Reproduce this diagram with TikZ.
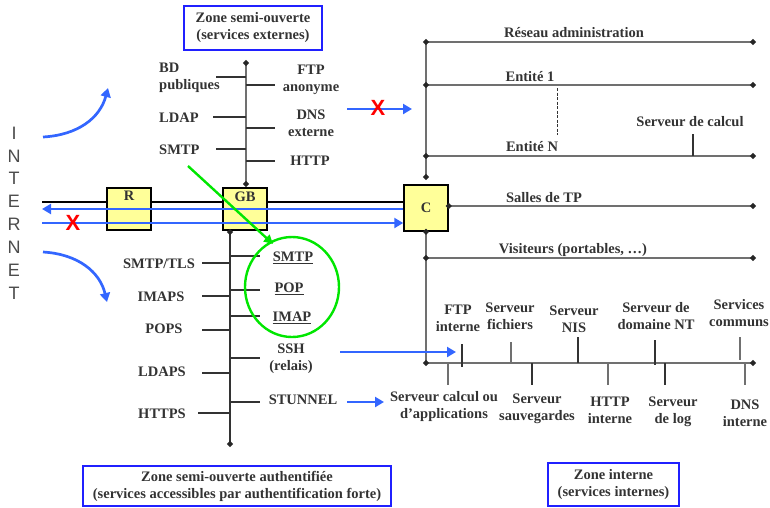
\documentclass[tikz,border=0pt]{standalone}
\usepackage{fontspec}
\setmainfont{Liberation Serif}
\setsansfont{Liberation Sans}
\usetikzlibrary{shapes.geometric,arrows.meta}
\definecolor{txt}{HTML}{333333}
\definecolor{bus}{HTML}{707070}
\definecolor{stub}{HTML}{333333}
\definecolor{zblue}{HTML}{3366FF}
\definecolor{boxblue}{HTML}{2020FF}
\definecolor{ylw}{HTML}{FFFF99}
\definecolor{grn}{HTML}{00E600}
\definecolor{xred}{HTML}{FF0000}
\begin{document}
\begin{tikzpicture}[x=1pt,y=-1pt,
  lbl/.style={font=\fontsize{14.5}{17}\selectfont\bfseries, text=txt, inner sep=0pt, align=center},
  zonebox/.style={draw=boxblue, line width=1.4pt, font=\fontsize{14.5}{17}\selectfont\bfseries, text=txt, align=center, inner sep=0pt},
  rbox/.style={draw=black, line width=1.5pt, fill=ylw, inner sep=0pt},
  busline/.style={draw=bus, line width=1.4pt},
  stubline/.style={draw=stub, line width=1.4pt},
  thickstub/.style={draw=stub, line width=2.4pt},
  dot/.style={diamond, fill=black!85, inner sep=0pt, minimum size=6.5pt},
  blarrow/.style={draw=zblue, line width=2.7pt, -{Triangle[length=9pt,width=10pt]}},
  xmark/.style={font=\sffamily\bfseries\fontsize{22}{22}\selectfont, text=xred, inner sep=0pt},
]
\useasboundingbox (0,0) rectangle (770,507);

% ---------- zone boxes ----------
\node[zonebox, minimum width=138pt, minimum height=44pt] (zso) at (253,28) {Zone semi-ouverte\\(services externes)};
\node[zonebox, minimum width=308pt, minimum height=40pt] (zsoa) at (237,486) {Zone semi-ouverte authentifiée\\(services accessibles par authentification forte)};
\node[zonebox, minimum width=131pt, minimum height=43pt] (zint) at (613.5,484.5) {Zone interne\\(services internes)};

% ---------- INTERNET ----------
\node[font=\sffamily\fontsize{18}{22.86}\selectfont, text=black!70, align=center, inner sep=0pt] (inet) at (14,213) {I\\N\\T\\E\\R\\N\\E\\T};

% ---------- boxes R, GB, C ----------
\node[rbox, minimum width=44pt, minimum height=42pt] (R) at (129,209) {};
\node[rbox, minimum width=44pt, minimum height=42pt] (GB) at (245,209) {};
\node[rbox, minimum width=44pt, minimum height=46pt] (C) at (426,208) {};
\node[lbl, anchor=north] at (R.north) [yshift=-4pt] {R};
\node[lbl, anchor=north] at (GB.north) [yshift=-4pt] {GB};
\node[lbl] at (C.center) {C};

% main backbone
\coordinate (inL) at (42,202);
\draw[black, line width=1.5pt] (inL) -- (R.west |- inL);
\draw[black, line width=1.5pt] (R.east |- inL) -- (GB.west |- inL);
\draw[black, line width=1.5pt] (GB.east |- inL) -- (C.west |- inL);
% blue flows
\coordinate (bl1) at (42,209);
\coordinate (bl2) at (42,223);
\draw[blarrow] (C.west |- bl1) -- (bl1);
\draw[blarrow] (bl2) -- (C.west |- bl2);
\node[xmark] (x1) at (73,223) {X};

% curved arrows
\coordinate (cu1) at (43,137);
\coordinate (cu2) at (108,88);
\draw[blarrow] (cu1) .. controls (78,135) and (100,118) .. (cu2);
\coordinate (cd1) at (43,252);
\coordinate (cd2) at (107,302);
\draw[blarrow] (cd1) .. controls (78,254) and (100,272) .. (cd2);

% ---------- upper DMZ bus ----------
\coordinate (ut) at (246,63);
\coordinate (ub) at (246,184);
\draw[busline] (ut) -- (ub);
\node[dot] at (ut) {};
\node[dot] at (ub) {};
\draw[stubline] (216,77) -- (246,77);
\draw[thickstub] (246,85) -- (275,85);
\draw[stubline] (213,117) -- (246,117);
\draw[stubline] (246,128) -- (275,128);
\draw[stubline] (216,149) -- (246,149);
\draw[thickstub] (246,161) -- (275,161);
\node[lbl, anchor=west, align=left] (bd) at (159,78) {BD\\publiques};
\node[lbl] (ftp) at (311,80) {FTP\\anonyme};
\node[lbl, anchor=west] (ldap) at (159,118) {LDAP};
\node[lbl] (dns) at (311,123) {DNS\\externe};
\node[lbl, anchor=west] (smtp) at (159,150) {SMTP};
\node[lbl] (http) at (310,161) {HTTP};

% blocked arrow to internal zone
\coordinate (ba1) at (347,109);
\coordinate (ba2) at (412,109);
\draw[blarrow] (ba1) -- (ba2);
\node[xmark] (x2) at (378,108) {X};

% ---------- lower DMZ bus ----------
\coordinate (lt) at (230,232);
\coordinate (lb) at (230,444);
\draw[draw=stub, line width=1.4pt] (lt) -- (lb);
\node[dot] at (lt) {};
\node[dot] at (lb) {};
\draw[thickstub] (202,263) -- (230,263);
\draw[stubline] (202,296) -- (230,296);
\draw[stubline] (202,330) -- (230,330);
\draw[stubline] (202,373) -- (230,373);
\draw[thickstub] (198,413) -- (230,413);
\draw[stubline] (230,256) -- (260,256);
\draw[stubline] (230,290) -- (260,290);
\draw[stubline] (230,316) -- (260,316);
\draw[stubline] (230,358) -- (260,358);
\draw[stubline] (230,402) -- (260,402);
\node[lbl] (smtptls) at (159,264) {SMTP/TLS};
\node[lbl] (imaps) at (161,297) {IMAPS};
\node[lbl] (pops) at (164,329) {POPS};
\node[lbl] (ldaps) at (162,372) {LDAPS};
\node[lbl] (https) at (162,414) {HTTPS};
\node[lbl] (smtp2) at (293,258) {\underline{SMTP}};
\node[lbl] (pop) at (289,289) {\underline{POP}};
\node[lbl] (imap) at (292,318) {\underline{IMAP}};
\node[lbl] (ssh) at (291,359) {SSH\\(relais)};
\node[lbl] (stun) at (303,400) {STUNNEL};

% green circle and arrow
\node[draw=grn, line width=2.4pt, ellipse, minimum width=94pt, minimum height=100pt] (circ) at (292,287) {};
\coordinate (ga) at (188,166);
\draw[draw=grn, line width=2.4pt, -{Triangle[length=9pt,width=9pt]}] (ga) -- (273,244);

% ---------- internal zone ----------
\coordinate (vt) at (426,42);
\coordinate (vb) at (426,177);
\draw[busline] (vt) -- (vb);
\node[dot] at (vb) {};
\foreach \yy in {42,85,156} {
  \draw[busline] (426,\yy) -- (753,\yy);
  \node[dot] at (426,\yy) {};
  \node[dot] at (753,\yy) {};
}
\node[lbl] (radm) at (574,33) {Réseau administration};
\node[lbl] (e1) at (530,77) {Entité 1};
\node[lbl] (en) at (532,147) {Entité N};
\draw[black!80, line width=1pt, dash pattern=on 3pt off 1.5pt] (557,88) -- (557,135);
\node[lbl] (scalc) at (690,122) {Serveur de calcul};
\draw[stubline] (693,134) -- (693,156);

% salles TP
\coordinate (stp) at (753,206);
\draw[busline] (C.east |- stp) -- (stp);
\node[dot] at (C.east |- stp) {};
\node[dot] at (stp) {};
\node[lbl] (salles) at (544,198) {Salles de TP};

% down from C
\coordinate (cb) at (426,363);
\draw[busline] (C.south) -- (cb);
\node[dot] at (C.south) {};
\draw[busline] (426,258) -- (753,258);
\node[dot] at (426,258) {};
\node[dot] at (753,258) {};
\node[lbl] (visit) at (573,250) {Visiteurs (portables, …)};

% services bus
\coordinate (sbe) at (753,363);
\draw[busline] (cb) -- (sbe);
\node[dot] at (cb) {};
\node[dot] at (sbe) {};
% upper stubs
\draw[thickstub, line width=2pt] (462,344) -- (462,367);
\draw[draw=bus, line width=1.4pt] (511,342) -- (511,363);
\draw[thickstub, line width=2pt] (578,337) -- (578,363);
\draw[thickstub, line width=2pt] (655,340) -- (655,365);
\draw[draw=bus, line width=1.4pt] (740,337) -- (740,360);
% lower stubs
\draw[draw=bus, line width=1.4pt] (448,363) -- (448,385);
\draw[stubline] (532,363) -- (532,385);
\draw[draw=bus, line width=1.4pt] (608,363) -- (608,385);
\draw[stubline] (665,363) -- (665,385);
\draw[draw=bus, line width=1.8pt] (745,363) -- (745,385);

\node[lbl] (ftpi) at (458,318) {FTP\\interne};
\node[lbl] (sfich) at (510,316) {Serveur\\fichiers};
\node[lbl] (snis) at (574,319) {Serveur\\NIS};
\node[lbl] (snt) at (656,316) {Serveur de\\domaine NT};
\node[lbl] (scom) at (739,313) {Services\\communs};
\node[lbl] (scalcapp) at (444,407) {Serveur calcul ou\\d’applications};
\node[lbl] (ssauv) at (537,409) {Serveur\\sauvegardes};
\node[lbl] (httpi) at (610,410) {HTTP\\interne};
\node[lbl] (slog) at (673,412) {Serveur\\de log};
\node[lbl] (dnsi) at (745,413) {DNS\\interne};

% SSH and STUNNEL arrows
\coordinate (sshA) at (340,352);
\coordinate (sshB) at (456,352);
\draw[blarrow] (sshA) -- (sshB);
\coordinate (stA) at (347,402);
\coordinate (stB) at (384,402);
\draw[blarrow] (stA) -- (stB);
\end{tikzpicture}
\end{document}
